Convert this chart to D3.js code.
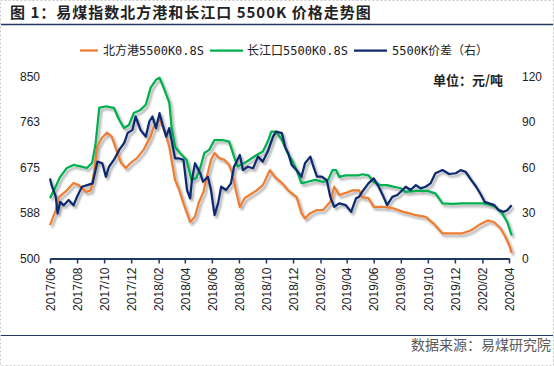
<!DOCTYPE html>
<html>
<head>
<meta charset="utf-8">
<script src="https://cdn.jsdelivr.net/npm/d3@7"></script>
<style>
  body { margin: 0; background: #fff; }
  svg { display: block; }
</style>
</head>
<body>
<svg id="chart" width="554" height="366" viewBox="0 0 554 366"></svg>
<script>
// 北方港 5500K0.8S (左轴)
const northPort = [
  ["2017-06-01", 564], ["2017-06-14", 593], ["2017-06-21", 618], ["2017-07-09", 631], ["2017-07-24", 645],
  ["2017-08-05", 641], ["2017-08-21", 628], ["2017-09-01", 631], ["2017-09-09", 670], ["2017-09-15", 715],
  ["2017-09-26", 732], ["2017-10-07", 742], ["2017-10-18", 735], ["2017-10-27", 713], ["2017-11-08", 684],
  ["2017-11-19", 674], ["2017-11-30", 684], ["2017-12-14", 693], ["2017-12-29", 709], ["2018-01-14", 735],
  ["2018-01-21", 754], ["2018-02-03", 767], ["2018-02-14", 747], ["2018-02-25", 715], ["2018-03-02", 690],
  ["2018-03-10", 651], ["2018-03-18", 635], ["2018-03-29", 606], ["2018-04-13", 570], ["2018-04-24", 580],
  ["2018-05-02", 606], ["2018-05-13", 628], ["2018-05-19", 651], ["2018-05-30", 690], ["2018-06-07", 703],
  ["2018-06-18", 693], ["2018-06-29", 690], ["2018-07-10", 680], ["2018-07-17", 664], ["2018-07-25", 631],
  ["2018-08-03", 599], ["2018-08-14", 616], ["2018-08-25", 622], ["2018-09-10", 631], ["2018-09-24", 641],
  ["2018-10-10", 670], ["2018-10-21", 657], ["2018-11-06", 645], ["2018-11-20", 631], ["2018-12-09", 618],
  ["2018-12-20", 587], ["2018-12-28", 577], ["2019-01-09", 587], ["2019-01-24", 593], ["2019-02-07", 593],
  ["2019-02-23", 609], ["2019-03-04", 638], ["2019-03-15", 622], ["2019-03-30", 626], ["2019-04-14", 631],
  ["2019-04-29", 631], ["2019-05-06", 618], ["2019-05-20", 616], ["2019-06-01", 599], ["2019-06-20", 599],
  ["2019-07-13", 597], ["2019-08-05", 590], ["2019-08-19", 587], ["2019-09-04", 583], ["2019-09-26", 580],
  ["2019-10-14", 567], ["2019-11-03", 548], ["2019-11-26", 548], ["2019-12-18", 548], ["2020-01-07", 554],
  ["2020-01-24", 564], ["2020-02-13", 573], ["2020-02-27", 570], ["2020-03-13", 558], ["2020-03-24", 541],
  ["2020-04-03", 522], ["2020-04-07", 510]
];

// 长江口 5500K0.8S (左轴)
const yangtze = [
  ["2017-06-01", 616], ["2017-06-10", 631], ["2017-06-24", 657], ["2017-07-09", 674], ["2017-07-24", 680],
  ["2017-08-09", 677], ["2017-08-23", 674], ["2017-09-04", 684], ["2017-09-12", 722], ["2017-09-20", 790],
  ["2017-10-05", 793], ["2017-10-23", 790], ["2017-11-04", 767], ["2017-11-15", 751], ["2017-11-26", 757],
  ["2017-12-07", 780], ["2017-12-22", 786], ["2018-01-03", 796], ["2018-01-14", 829], ["2018-01-26", 844],
  ["2018-02-03", 848], ["2018-02-14", 825], ["2018-02-25", 800], ["2018-03-02", 754], ["2018-03-10", 715],
  ["2018-03-21", 703], ["2018-04-05", 690], ["2018-04-16", 651], ["2018-04-27", 655], ["2018-05-06", 675],
  ["2018-05-15", 703], ["2018-05-26", 709], ["2018-06-07", 728], ["2018-06-25", 728], ["2018-07-10", 725],
  ["2018-07-21", 696], ["2018-07-29", 677], ["2018-08-14", 684], ["2018-08-25", 690], ["2018-09-10", 699],
  ["2018-09-24", 706], ["2018-10-05", 725], ["2018-10-13", 744], ["2018-10-24", 744], ["2018-11-06", 728],
  ["2018-11-17", 706], ["2018-11-28", 690], ["2018-12-09", 670], ["2018-12-20", 645], ["2019-01-01", 647],
  ["2019-01-20", 651], ["2019-02-07", 647], ["2019-02-18", 651], ["2019-02-28", 670], ["2019-03-08", 670],
  ["2019-03-15", 657], ["2019-03-30", 660], ["2019-04-14", 660], ["2019-04-29", 660], ["2019-05-06", 662],
  ["2019-05-20", 660], ["2019-06-01", 647], ["2019-06-16", 641], ["2019-07-01", 641], ["2019-07-15", 638],
  ["2019-08-01", 635], ["2019-08-12", 628], ["2019-09-04", 630], ["2019-09-30", 630], ["2019-10-18", 625],
  ["2019-11-03", 606], ["2019-11-26", 605], ["2019-12-18", 606], ["2020-01-10", 606], ["2020-02-02", 606],
  ["2020-02-16", 604], ["2020-03-02", 599], ["2020-03-17", 586], ["2020-03-28", 570], ["2020-04-07", 544]
];

// 5500K 价差 (右轴)
const spread = [
  ["2017-06-01", 52.8], ["2017-06-05", 48], ["2017-06-14", 40.7], ["2017-06-18", 29.6], ["2017-06-24", 37.3],
  ["2017-07-02", 35], ["2017-07-13", 38.5], ["2017-07-24", 35], ["2017-08-01", 40.7], ["2017-08-12", 47.3],
  ["2017-08-24", 48.4], ["2017-09-05", 49.5], ["2017-09-16", 63.9], ["2017-09-27", 62.8], ["2017-10-05", 53.9],
  ["2017-10-12", 60.5], ["2017-10-23", 65], ["2017-11-04", 71.6], ["2017-11-15", 76], ["2017-11-23", 82.7],
  ["2017-12-04", 84.9], ["2017-12-11", 93.7], ["2017-12-22", 84.9], ["2018-01-03", 80.4], ["2018-01-11", 90.4],
  ["2018-01-18", 93.7], ["2018-01-26", 86], ["2018-02-03", 95.9], ["2018-02-10", 88.2], ["2018-02-18", 80.4],
  ["2018-02-25", 86], ["2018-03-02", 78.2], ["2018-03-10", 66.1], ["2018-03-18", 66.1], ["2018-03-29", 65],
  ["2018-04-06", 45.1], ["2018-04-13", 39.6], ["2018-04-17", 51.7], ["2018-04-24", 62.8], ["2018-05-06", 56],
  ["2018-05-12", 50.6], ["2018-05-23", 53.9], ["2018-05-30", 45.1], ["2018-06-07", 28.5], ["2018-06-15", 36.3],
  ["2018-06-22", 47.3], ["2018-07-03", 45.1], ["2018-07-14", 49.5], ["2018-07-21", 60.5], ["2018-08-03", 68.3],
  ["2018-08-10", 58.3], ["2018-08-21", 60.5], ["2018-09-02", 59.5], ["2018-09-13", 67.2], ["2018-09-24", 63.9],
  ["2018-10-05", 70.5], ["2018-10-17", 80.4], ["2018-10-24", 83.7], ["2018-11-06", 82.7], ["2018-11-13", 73.8],
  ["2018-11-20", 69.4], ["2018-11-28", 61.7], ["2018-12-09", 58.3], ["2018-12-20", 53.9], ["2018-12-28", 62.8],
  ["2019-01-09", 67.2], ["2019-01-16", 60.5], ["2019-01-24", 53.9], ["2019-02-04", 53.9], ["2019-02-15", 51.7],
  ["2019-02-23", 40.6], ["2019-03-04", 34], ["2019-03-15", 36.3], ["2019-03-30", 35.1], ["2019-04-11", 30.7],
  ["2019-04-22", 39.6], ["2019-04-29", 40.6], ["2019-05-06", 44], ["2019-05-20", 49.5], ["2019-06-01", 52.8],
  ["2019-06-12", 47.3], ["2019-06-23", 40.6], ["2019-07-01", 35.1], ["2019-07-13", 40.6], ["2019-07-24", 41.8],
  ["2019-08-05", 45.1], ["2019-08-12", 47.3], ["2019-08-23", 45.1], ["2019-09-04", 48.4], ["2019-09-15", 46.2],
  ["2019-09-26", 47.3], ["2019-10-07", 49.5], ["2019-10-18", 56.2], ["2019-11-03", 58.3], ["2019-11-18", 55.7],
  ["2019-12-03", 56.2], ["2019-12-14", 58.3], ["2019-12-25", 57.2], ["2020-01-07", 51.7], ["2020-01-18", 47.3],
  ["2020-01-29", 41.8], ["2020-02-06", 37.3], ["2020-02-16", 36.3], ["2020-02-28", 35.1], ["2020-03-09", 31.8],
  ["2020-03-20", 30.7], ["2020-03-28", 31.8], ["2020-04-07", 35.1]
];

const leftTicks = [500, 587.5, 675, 762.5, 850];   // 显示为取整
const rightTicks = [0, 30, 60, 90, 120];
const seriesNames = ["北方港5500K0.8S", "长江口5500K0.8S", "5500K价差（右）"];
const seriesColors = ["#ED7D31", "#00B050", "#0D2A6E"];

const svg = d3.select("#chart");
const parseDate = d3.timeParse("%Y-%m-%d");
const navy = "#1F3864";

// outer dashed frame
svg.append("rect")
  .attr("x", 0.5).attr("y", 0.5).attr("width", 553).attr("height", 365)
  .attr("fill", "#fff").attr("stroke", "#c8c8c8").attr("stroke-dasharray", "2,2");

// title + rule
svg.append("text")
  .attr("x", 10).attr("y", 18)
  .style("font-family", "'Noto Sans CJK SC'")
  .style("font-weight", "bold")
  .style("font-size", "15px")
  .style("letter-spacing", "1px")
  .attr("fill", "#222")
  .text("图 1：易煤指数北方港和长江口 5500K 价格走势图");
svg.append("line")
  .attr("x1", 1).attr("x2", 553).attr("y1", 24.5).attr("y2", 24.5)
  .attr("stroke", navy).attr("stroke-width", 1.5);

// footer
svg.append("line")
  .attr("x1", 1).attr("x2", 553).attr("y1", 335.5).attr("y2", 335.5)
  .attr("stroke", navy).attr("stroke-width", 1);
svg.append("text")
  .attr("x", 551).attr("y", 350)
  .attr("text-anchor", "end")
  .style("font-family", "'Noto Sans CJK SC'")
  .style("font-size", "14px")
  .attr("fill", "#595959")
  .text("数据来源：易煤研究院");

// shadow like the Excel lines
const defs = svg.append("defs");
defs.append("filter").attr("id", "shadow")
  .attr("x", "-5%").attr("y", "-5%").attr("width", "110%").attr("height", "115%")
  .append("feDropShadow")
  .attr("dx", 2).attr("dy", 2.5).attr("stdDeviation", 1.3)
  .attr("flood-color", "#000").attr("flood-opacity", 0.35);

// scales
const x = d3.scaleTime()
  .domain([parseDate("2017-06-01"), parseDate("2020-04-01")])
  .range([50, 509]);
const yLeft = d3.scaleLinear().domain([500, 850]).range([258.3, 76.7]);
const yRight = d3.scaleLinear().domain([0, 120]).range([258.3, 76.7]);

// left axis labels
svg.append("g")
  .attr("transform", "translate(46,0)")
  .call(d3.axisLeft(yLeft).tickValues(leftTicks).tickSize(0).tickPadding(6).tickFormat(d => Math.round(d)))
  .call(g => g.select(".domain").remove())
  .selectAll("text")
  .style("font-family", "'Liberation Sans', Arial")
  .style("font-size", "12px")
  .attr("fill", "#222");

// right axis labels
svg.append("g")
  .attr("transform", "translate(516,0)")
  .call(d3.axisRight(yRight).tickValues(rightTicks).tickSize(0).tickPadding(6))
  .call(g => g.select(".domain").remove())
  .selectAll("text")
  .style("font-family", "'Liberation Sans', Arial")
  .style("font-size", "12px")
  .attr("fill", "#222");

// lines
const lineLeft = d3.line().x(d => x(parseDate(d[0]))).y(d => yLeft(d[1]));
const lineRight = d3.line().x(d => x(parseDate(d[0]))).y(d => yRight(d[1]));

const lineG = svg.append("g").attr("filter", "url(#shadow)");
[[northPort, lineLeft, 0], [yangtze, lineLeft, 1], [spread, lineRight, 2]].forEach(s => {
  lineG.append("path")
    .datum(s[0])
    .attr("d", s[1])
    .attr("fill", "none")
    .attr("stroke", seriesColors[s[2]])
    .attr("stroke-width", 2.25)
    .attr("stroke-linejoin", "round");
});

// x axis, one tick every two months from 2017/06
const xTicks = d3.timeMonth.range(parseDate("2017-06-01"), parseDate("2020-04-02"), 2);
const xAxis = svg.append("g")
  .attr("transform", "translate(0,258.5)")
  .call(d3.axisBottom(x).tickValues(xTicks).tickSize(5).tickSizeOuter(0).tickFormat(d3.timeFormat("%Y/%m")));
xAxis.select(".domain").attr("stroke", navy).attr("stroke-width", 2);
xAxis.selectAll(".tick line").attr("stroke", navy).attr("stroke-width", 1.5);
xAxis.selectAll("text")
  .attr("transform", "rotate(-90)")
  .attr("text-anchor", "end")
  .attr("x", -9).attr("y", 0).attr("dy", "0.35em")
  .style("font-family", "'Liberation Sans', Arial")
  .style("font-size", "12px")
  .attr("fill", "#222");

// legend
const legendX = [[80, 98, 103], [210, 243, 247], [354, 387, 392]];
const legend = svg.append("g");
seriesNames.forEach((name, i) => {
  legend.append("line")
    .attr("x1", legendX[i][0]).attr("x2", legendX[i][1])
    .attr("y1", 50.5).attr("y2", 50.5)
    .attr("stroke", seriesColors[i]).attr("stroke-width", 2.25);
  legend.append("text")
    .attr("x", legendX[i][2]).attr("y", 55)
    .style("font-family", "'DejaVu Sans Mono', 'Noto Sans CJK SC'")
    .style("font-size", "12px")
    .attr("fill", "#222")
    .text(name);
});

// unit
svg.append("text")
  .attr("x", 503).attr("y", 85)
  .attr("text-anchor", "end")
  .style("font-family", "'Noto Sans CJK SC'")
  .style("font-weight", "bold")
  .style("font-size", "13px")
  .attr("fill", "#222")
  .text("单位：元/吨");
</script>
</body>
</html>
